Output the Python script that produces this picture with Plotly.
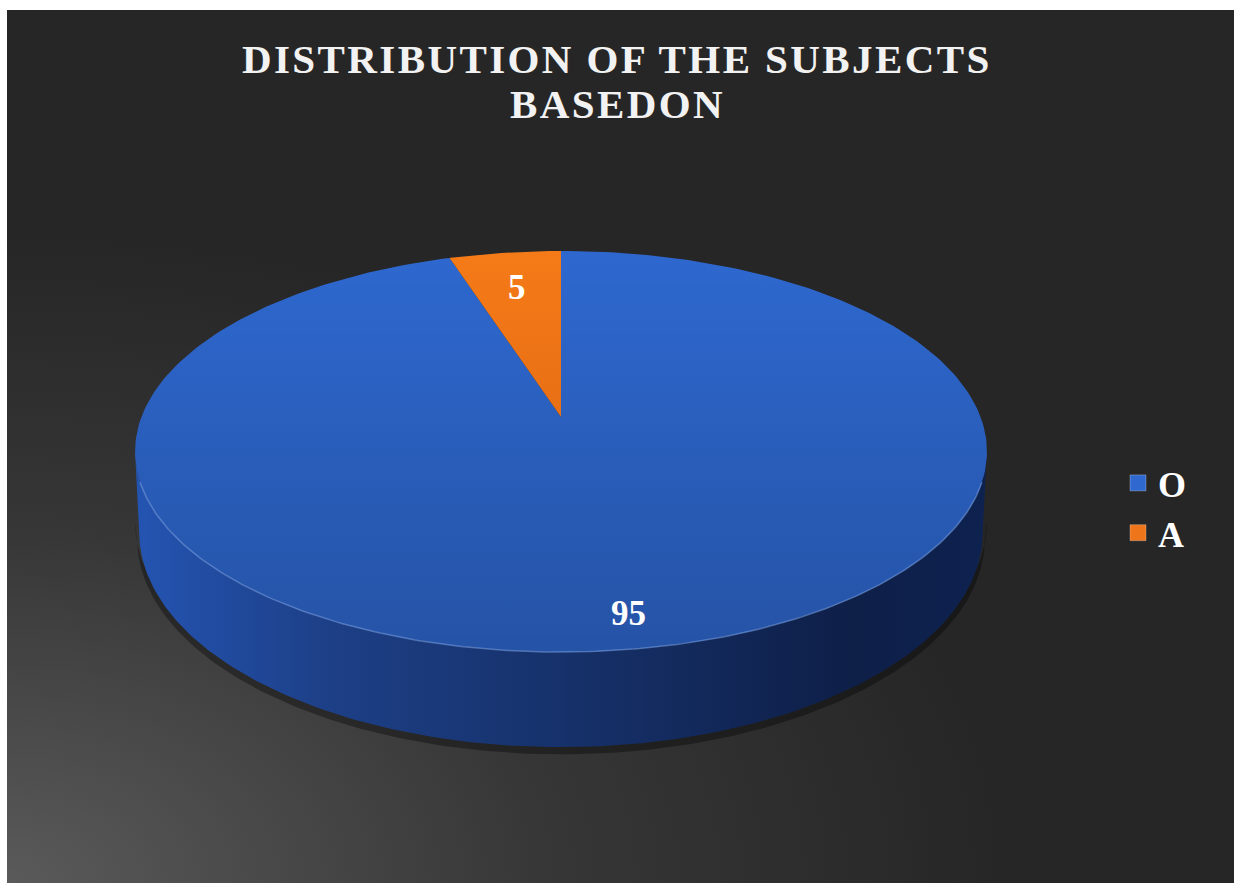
import numpy as np
import plotly.graph_objects as go

# ---------------- data ----------------
categories = ["O", "A"]
values = [95, 5]
top_colors = [("#2e68cf", "#2553a6"), ("#f57a18", "#d6610f")]
legend_colors = ["#2f69cf", "#ee7519"]
side_scales = [
    [[0, "#2454b2"], [0.23, "#1d3f86"], [0.55, "#152f66"], [0.84, "#0e1f48"], [1, "#0e2250"]],
    [[0, "#c65a10"], [1, "#7a3508"]],
]
label_radius = [0.87, 0.76]
title_lines = ["DISTRIBUTION OF THE SUBJECTS", "BASEDON"]

# ---------------- canvas / projection settings ----------------
X0, X1 = 7, 1234
Y0, Y1 = 10, 883
CX, CY = 561, 417          # projected pie centre
RA, RB, PC = 419.6, 194.6, 0.172   # horizontal / vertical radius, perspective
DEPTH = 78.7
FONT = "Liberation Serif"


def proj(theta, r=1.0, dz=0.0, k=1.0):
    u = r * np.sin(theta)
    v = r * np.cos(theta)
    s = 1.0 / (1.0 + PC * v)
    return CX + RA * u * s * k, CY - RB * v * s + dz * s


total = float(sum(values))
cum = np.concatenate([[0], np.cumsum(values)]) / total
angles = [(2 * np.pi * cum[i], 2 * np.pi * cum[i + 1]) for i in range(len(values))]

fig = go.Figure()

# background radial glow from lower-left corner
W, H = 1000, 650
fig.add_trace(go.Scatter(
    x=[X0 - W, X0 + W, X0 + W, X0 - W, X0 - W],
    y=[Y1 - H, Y1 - H, Y1 + H, Y1 + H, Y1 - H],
    mode="lines", line=dict(width=0), fill="toself",
    fillgradient=dict(type="radial", colorscale=[[0, "#5a5a5a"], [0.55, "#363636"], [1, "#262626"]]),
    hoverinfo="skip", showlegend=False))

# visible side range
tR = np.arccos(-PC)
tL = 2 * np.pi - tR

# shadow
ts = np.linspace(tR, tL, 200)
sx, sy = proj(ts, dz=DEPTH + 6, k=0.995)
tx, ty = proj(ts[::-1], dz=DEPTH - 10)
fig.add_trace(go.Scatter(x=np.concatenate([sx, tx]), y=np.concatenate([sy, ty]),
                         mode="lines", line=dict(width=0), fill="toself",
                         fillcolor="rgba(0,0,0,0.35)", hoverinfo="skip", showlegend=False))

# sides
for i, (a0, a1) in enumerate(angles):
    lo, hi = max(a0, tR), min(a1, tL)
    if hi <= lo:
        continue
    t = np.linspace(lo, hi, 200)
    xt, yt = proj(t)
    xb, yb = proj(t[::-1], dz=DEPTH, k=0.99)
    fig.add_trace(go.Scatter(
        x=np.concatenate([xt, xb, xt[:1]]), y=np.concatenate([yt, yb, yt[:1]]),
        mode="lines", line=dict(width=0), fill="toself",
        fillgradient=dict(type="horizontal", colorscale=side_scales[i],
                          start=CX - RA * 1.015, stop=CX + RA * 1.015),
        hoverinfo="skip", showlegend=False))

# top faces
for i, (a0, a1) in enumerate(angles):
    t = np.linspace(a0, a1, 300)
    xt, yt = proj(t)
    fig.add_trace(go.Scatter(
        x=np.concatenate([[CX], xt, [CX]]), y=np.concatenate([[CY], yt, [CY]]),
        mode="lines", line=dict(width=0), fill="toself",
        fillgradient=dict(type="vertical",
                          colorscale=[[0, top_colors[i][0]], [1, top_colors[i][1]]],
                          start=CY - RB / (1 + PC), stop=CY + RB / (1 - PC)),
        hoverinfo="skip", showlegend=False, name=categories[i]))

# front edge highlight
t = np.linspace(tR + 0.15, tL - 0.15, 200)
xe, ye = proj(t)
fig.add_trace(go.Scatter(x=xe, y=ye, mode="lines",
                         line=dict(color="rgba(120,160,230,0.55)", width=1.5),
                         hoverinfo="skip", showlegend=False))

# legend entries
for i, cat in enumerate(categories):
    fig.add_trace(go.Scatter(x=[None], y=[None], mode="markers", name=cat,
                             marker=dict(symbol="square", size=19, color=legend_colors[i],
                                         line=dict(color="rgba(255,255,255,0.25)", width=1))))

# data labels
annotations = []
for i, (a0, a1) in enumerate(angles):
    lx, ly = proj((a0 + a1) / 2, r=label_radius[i])
    annotations.append(dict(x=float(lx), y=float(ly), xref="x", yref="y", text=str(values[i]),
                            showarrow=False, font=dict(family=FONT, size=35, color="white", weight="bold")))

# title lines
for j, (line, yy) in enumerate(zip(title_lines, [59, 104])):
    annotations.append(dict(x=617, y=yy, xref="x", yref="y",
                            text=f"<span style='letter-spacing:2.4px'>{line}</span>", showarrow=False,
                            xanchor="center", yanchor="middle",
                            font=dict(family=FONT, size=41, color="#f2f2f2", weight="bold")))

fig.update_layout(
    width=1234, height=883,
    margin=dict(l=7, r=0, t=10, b=0),
    paper_bgcolor="white", plot_bgcolor="#262626",
    xaxis=dict(range=[X0, X1], visible=False, fixedrange=True),
    yaxis=dict(range=[Y1, Y0], visible=False, fixedrange=True),
    showlegend=True,
    legend=dict(x=(1118 - X0) / (X1 - X0), y=1 - (508 - Y0) / (Y1 - Y0), xanchor="left", yanchor="middle",
                bgcolor="rgba(0,0,0,0)", font=dict(family=FONT, size=36, color="white", weight="bold")),
    annotations=annotations,
)

fig.write_html("out.html", config={"displayModeBar": False},
               post_script="document.body.style.margin='0';document.body.style.overflow='hidden';")
